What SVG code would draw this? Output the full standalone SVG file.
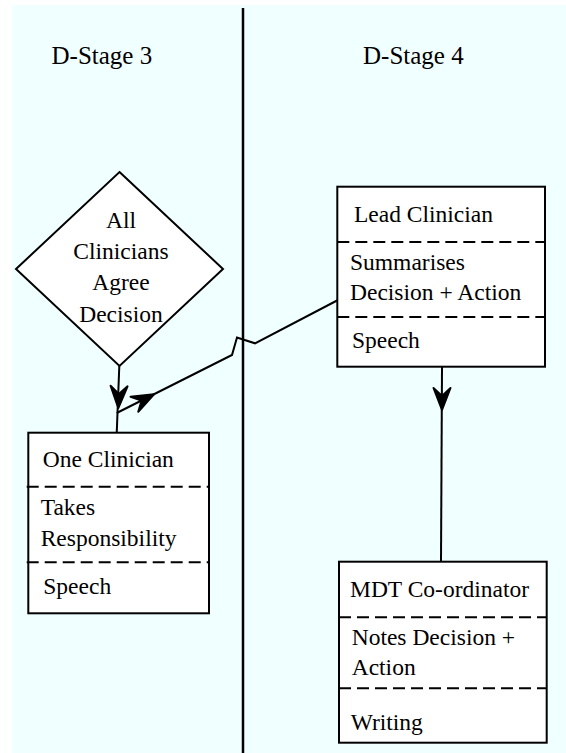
<svg xmlns="http://www.w3.org/2000/svg" width="566" height="753" viewBox="0 0 566 753">
<style>
text{font-family:"Liberation Serif","Times New Roman",serif;fill:#000;font-size:23.5px}
.title{font-size:25px}
.shape{fill:#fff;stroke:#000;stroke-width:2}
.dash{fill:none;stroke:#000;stroke-width:2;stroke-dasharray:12 6}
.conn{fill:none;stroke:#000;stroke-width:2}
.lane{stroke:#000;stroke-width:2.5}
.head{fill:#000;stroke:#000;stroke-width:2;stroke-linejoin:round}
</style>
<defs>
<path id="ah" class="head" d="M0,0 L-22,-8.5 L-14,0 L-22,8.5 Z"/>
</defs>
<rect x="12" y="5" width="554" height="748" fill="#F0FFFF"/>
<line class="lane" x1="243" y1="8" x2="243" y2="753"/>
<text class="title" x="51.5" y="64">D-Stage 3</text>
<text class="title" x="363" y="64">D-Stage 4</text>
<g id="connectors">
<path class="conn" d="M119.3,366 L116.7,434"/>
<use href="#ah" transform="translate(118.3,408) rotate(92)"/>
<path class="conn" d="M116.7,413 L232,355 L237,337.5 L255,343.3 L338,300"/>
<use href="#ah" transform="translate(154,394.3) rotate(-27)"/>
<path class="conn" d="M442,367 L441,562"/>
<use href="#ah" transform="translate(442,410) rotate(90)"/>
</g>
<g id="decision">
<polygon class="shape" points="119.5,172 223,269 119.5,366 16,269"/>
<text x="121" y="228" text-anchor="middle">All</text>
<text x="121" y="259" text-anchor="middle">Clinicians</text>
<text x="121" y="290" text-anchor="middle">Agree</text>
<text x="121" y="322" text-anchor="middle">Decision</text>
</g>
<g id="lead-clinician">
<rect class="shape" x="337.3" y="186.7" width="207.7" height="180"/>
<line class="dash" x1="337.3" y1="242" x2="545" y2="242"/>
<line class="dash" x1="337.3" y1="317" x2="545" y2="317"/>
<text x="354" y="221.7">Lead Clinician</text>
<text x="350" y="270">Summarises</text>
<text x="350" y="300">Decision + Action</text>
<text x="352" y="348">Speech</text>
</g>
<g id="one-clinician">
<rect class="shape" x="28.3" y="432.7" width="180.7" height="180.6"/>
<line class="dash" x1="26.7" y1="486.7" x2="209" y2="486.7"/>
<line class="dash" x1="26.7" y1="562.3" x2="209" y2="562.3"/>
<text x="42.7" y="467.3">One Clinician</text>
<text x="40.7" y="515">Takes</text>
<text x="40.7" y="546">Responsibility</text>
<text x="43.3" y="594">Speech</text>
</g>
<g id="mdt-coordinator">
<rect class="shape" x="339" y="561.7" width="207.7" height="181"/>
<line class="dash" x1="339" y1="617.3" x2="546.7" y2="617.3"/>
<line class="dash" x1="339" y1="688.3" x2="546.7" y2="688.3"/>
<text x="350" y="596.7">MDT Co-ordinator</text>
<text x="351.7" y="645">Notes Decision +</text>
<text x="351.7" y="675">Action</text>
<text x="350.7" y="730">Writing</text>
</g>
</svg>
